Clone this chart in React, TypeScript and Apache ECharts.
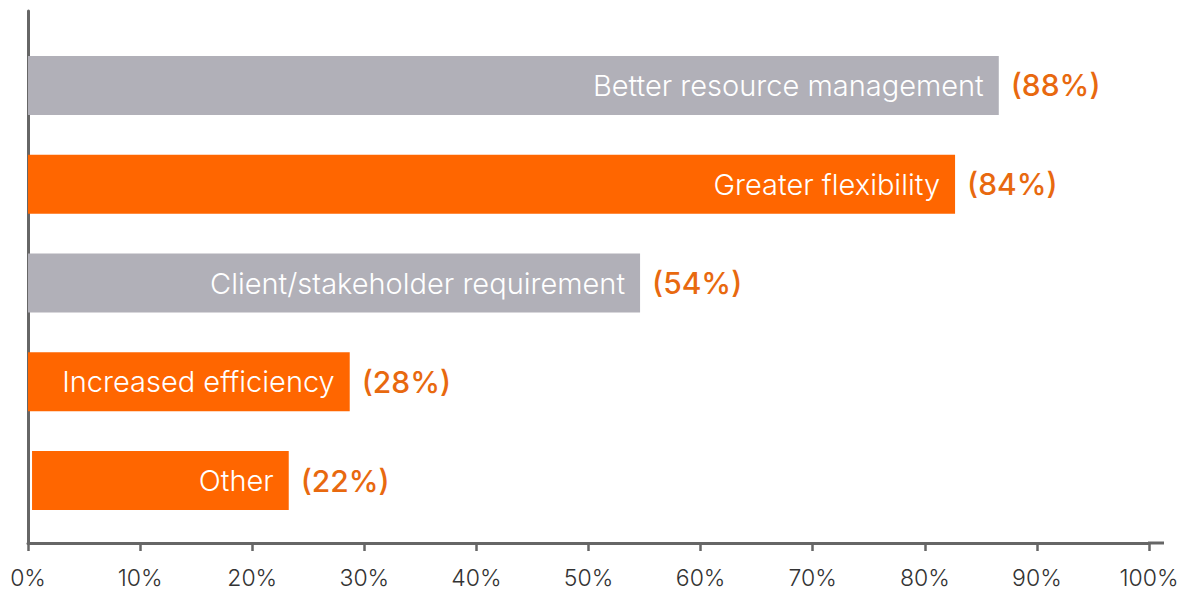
import React, { useEffect, useRef } from "react";
import * as echarts from "echarts";

const categories = [
  "Better resource management",
  "Greater flexibility",
  "Client/stakeholder requirement",
  "Increased efficiency",
  "Other",
];
const barValues = [86.6, 82.7, 54.6, 28.7, 22.9];
const barOffsets = [0, 0, 0, 0, 0.36];
const pctLabels = ["(88%)", "(84%)", "(54%)", "(28%)", "(22%)"];
const barColors = ["#b1b0b8", "#ff6600", "#b1b0b8", "#ff6600", "#ff6600"];
const xTicks = [0, 10, 20, 30, 40, 50, 60, 70, 80, 90, 100];

export default function App() {
  const ref = useRef<HTMLDivElement>(null);
  useEffect(() => {
    if (!ref.current) return;
    const chart = echarts.init(ref.current, null, { renderer: "svg" });
    const totals = barValues.map((v, i) => v + barOffsets[i]);
    const font = "Inter, 'Helvetica Neue', Arial, sans-serif";
    chart.setOption({
      animation: false,
      backgroundColor: "#ffffff",
      textStyle: { fontFamily: font },
      grid: [
        { left: 28, right: 48, top: 11, height: 532 },
        { left: 28, right: 48, top: 36, height: 494 },
      ],
      xAxis: [
        {
          gridIndex: 0,
          type: "value",
          min: xTicks[0],
          max: xTicks[xTicks.length - 1],
          interval: 10,
          axisLine: { show: true, lineStyle: { color: "#666666", width: 3 } },
          axisTick: { show: true, length: 8, lineStyle: { color: "#666666", width: 2.5 } },
          axisLabel: {
            formatter: "{value}%",
            color: "#333333",
            fontSize: 23,
            fontWeight: 300,
            fontFamily: font,
            margin: 23,
          },
          splitLine: { show: false },
        },
        {
          gridIndex: 1,
          type: "value",
          min: 0,
          max: 100,
          show: false,
        },
      ],
      yAxis: [
        {
          gridIndex: 0,
          type: "value",
          min: 0,
          max: 1,
          axisLine: { show: true, lineStyle: { color: "#666666", width: 3 } },
          axisTick: { show: false },
          axisLabel: { show: false },
          splitLine: { show: false },
        },
        {
          gridIndex: 1,
          type: "category",
          data: categories,
          inverse: true,
          show: false,
        },
      ],
      graphic: [
        {
          type: "line",
          shape: { x1: 1148, y1: 543, x2: 1164, y2: 543 },
          style: { stroke: "#666666", lineWidth: 3 },
        },
      ],
      series: [
        {
          type: "bar",
          xAxisIndex: 1,
          yAxisIndex: 1,
          stack: "s",
          barWidth: 59,
          data: barOffsets,
          itemStyle: { color: "rgba(0,0,0,0)" },
          silent: true,
        },
        {
          type: "bar",
          xAxisIndex: 1,
          yAxisIndex: 1,
          stack: "s",
          barWidth: 59,
          data: barValues.map((v, i) => ({ value: v, itemStyle: { color: barColors[i] } })),
          label: {
            show: true,
            position: "insideRight",
            distance: 15,
            formatter: (p: any) => categories[p.dataIndex],
            color: "#ffffff",
            fontSize: 29,
            fontWeight: 300,
            fontFamily: font,
          },
        },
        {
          type: "bar",
          xAxisIndex: 1,
          yAxisIndex: 1,
          barWidth: 59,
          barGap: "-100%",
          data: totals,
          itemStyle: { color: "rgba(0,0,0,0)" },
          z: 1,
          label: {
            show: true,
            position: "right",
            distance: 12,
            formatter: (p: any) => pctLabels[p.dataIndex],
            color: "#e8690f",
            fontSize: 30,
            fontWeight: 500,
            fontFamily: font,
          },
        },
      ],
    });
    return () => chart.dispose();
  }, []);
  return (
    <div
      ref={ref}
      style={{ position: "absolute", left: 0, top: 0, width: 1197, height: 593 }}
    />
  );
}
